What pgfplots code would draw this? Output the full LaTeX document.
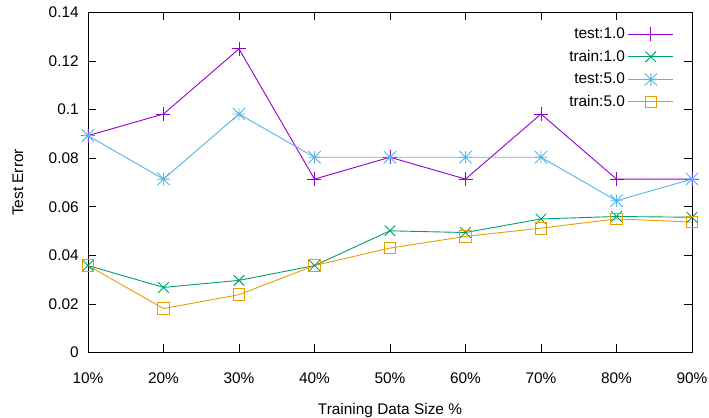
\documentclass[border=0pt]{standalone}
\usepackage{fontspec}
\setmainfont{Liberation Sans}
\usepackage{pgfplots}
\pgfplotsset{compat=1.18}
\definecolor{cA}{HTML}{9400D3}
\definecolor{cB}{HTML}{009E73}
\definecolor{cC}{HTML}{56B4E9}
\definecolor{cD}{HTML}{E69F00}
\pgfdeclareplotmark{gpstar}{%
  \pgfpathmoveto{\pgfqpoint{-\pgfplotmarksize}{0pt}}\pgfpathlineto{\pgfqpoint{\pgfplotmarksize}{0pt}}%
  \pgfpathmoveto{\pgfqpoint{0pt}{-\pgfplotmarksize}}\pgfpathlineto{\pgfqpoint{0pt}{\pgfplotmarksize}}%
  \pgfpathmoveto{\pgfqpoint{-\pgfplotmarksize}{-\pgfplotmarksize}}\pgfpathlineto{\pgfqpoint{\pgfplotmarksize}{\pgfplotmarksize}}%
  \pgfpathmoveto{\pgfqpoint{-\pgfplotmarksize}{\pgfplotmarksize}}\pgfpathlineto{\pgfqpoint{\pgfplotmarksize}{-\pgfplotmarksize}}%
  \pgfusepathqstroke}
\begin{document}
\fontsize{15.4bp}{18bp}\selectfont
\begin{tikzpicture}
\begin{axis}[
  at={(0,0)}, anchor=south west,
  scale only axis, width=604bp, height=340bp,
  xmin=0, xmax=8, ymin=0, ymax=0.14,
  xtick={0,1,2,3,4,5,6,7,8},
  xticklabels={10\%,20\%,30\%,40\%,50\%,60\%,70\%,80\%,90\%},
  ytick={0,0.02,0.04,0.06,0.08,0.1,0.12,0.14},
  yticklabels={0,0.02,0.04,0.06,0.08,0.1,0.12,0.14},
  minor tick num=0,
  tick align=inside,
  major tick length=8bp,
  axis line style={black, line width=0.9bp},
  every tick/.style={black, line width=0.8bp},
  xticklabel style={yshift=-15bp},
  yticklabel style={xshift=-4bp},
  xlabel={Training Data Size \%},
  xlabel style={at={(axis description cs:0.5,-0.172)}, anchor=center},
  ylabel={Test Error},
  ylabel style={at={(axis description cs:-0.116,0.5)}, anchor=center},
  legend plot pos=right,
  legend cell align=right,
  legend style={draw=none, fill=none, at={(rel axis cs:1,1)}, anchor=north east, xshift=-18bp, yshift=-12bp, row sep=3.3bp, inner sep=0pt, nodes={inner sep=3pt}},
  legend image code/.code={\draw[mark repeat=2,mark phase=2,#1] plot coordinates {(0bp,0bp) (22.5bp,0bp) (45bp,0bp)};},
  every axis plot/.append style={line width=0.9bp},
]
\addplot[cA, mark=+, mark size=7bp] coordinates {
 (0,0.0893) (1,0.0982) (2,0.125) (3,0.0714) (4,0.0804) (5,0.0714) (6,0.0982) (7,0.0714) (8,0.0714)};
\addlegendentry{test:1.0}
\addplot[cB, mark=x, mark size=7.5bp] coordinates {
 (0,0.0358) (1,0.0268) (2,0.0297) (3,0.0358) (4,0.0501) (5,0.0494) (6,0.0550) (7,0.0560) (8,0.0557)};
\addlegendentry{train:1.0}
\addplot[cC, mark=gpstar, mark size=6.2bp] coordinates {
 (0,0.0893) (1,0.0714) (2,0.0982) (3,0.0804) (4,0.0804) (5,0.0804) (6,0.0804) (7,0.0625) (8,0.0714)};
\addlegendentry{test:5.0}
\addplot[cD, mark=square, mark size=5.8bp, mark options={line width=0.9bp}] coordinates {
 (0,0.0358) (1,0.0181) (2,0.0238) (3,0.0358) (4,0.0430) (5,0.0478) (6,0.0512) (7,0.0550) (8,0.0537)};
\addlegendentry{train:5.0}
\end{axis}
\pgfresetboundingbox
\useasboundingbox (-88bp,-65.5bp) rectangle (621bp,352.5bp);
\end{tikzpicture}
\end{document}
